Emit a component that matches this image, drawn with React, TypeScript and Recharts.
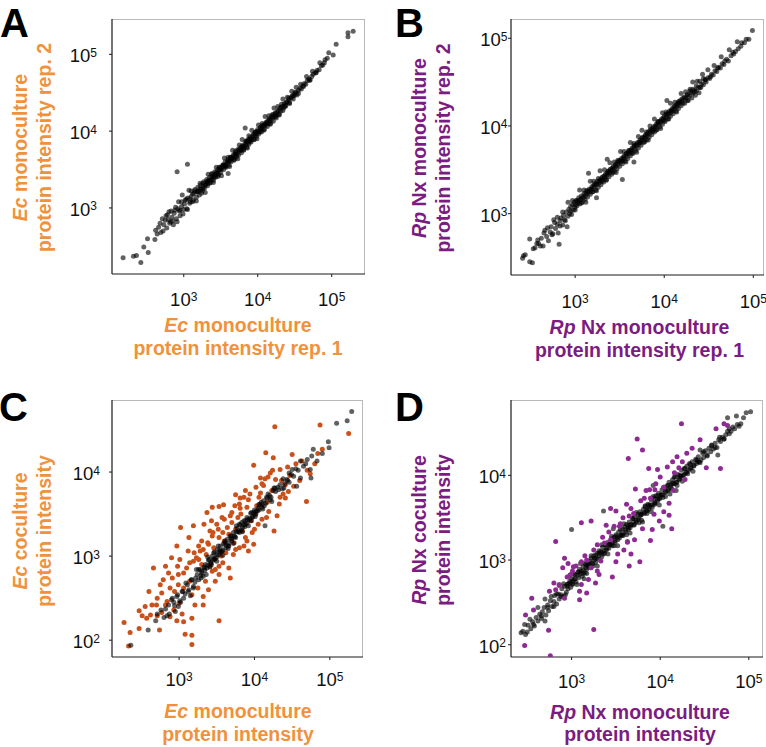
import React from 'react'
import { ScatterChart, Scatter, XAxis, YAxis } from 'recharts'

type Pt = [number, number]

// all values are log10(protein intensity)
const X_TICKS = [3, 4, 5]
const Y_TICKS_TOP = [3, 4, 5]
const Y_TICKS_BOTTOM = [2, 3, 4]

// A: Ec monoculture rep.1 (x) vs rep.2 (y)
const ecReplicates: Pt[] = [
  [2.18,2.35],[2.32,2.37],[2.36,2.38],[2.42,2.29],[2.46,2.49],[2.52,2.42],[2.51,2.60],[2.61,2.59],
  [2.62,2.71],[2.66,2.75],[2.69,2.68],[2.71,2.86],[2.73,2.78],[2.75,2.84],[2.77,2.74],[2.78,2.91],
  [2.80,2.95],[2.81,2.80],[2.82,2.82],[2.84,2.88],[2.86,2.78],[2.87,2.93],[2.89,3.01],[2.90,2.86],
  [2.91,2.82],[2.93,3.08],[2.94,2.96],[2.95,2.97],[2.97,3.02],[2.98,3.17],[2.99,2.92],[2.91,3.47],
  [3.05,3.57],[3.01,3.05],[3.02,3.10],[3.04,2.99],[3.05,3.13],[3.07,3.23],[3.08,3.06],[3.09,3.08],
  [3.10,3.15],[3.12,3.18],[3.13,3.10],[3.14,3.19],[3.15,3.24],[3.17,3.14],[3.18,3.21],[3.19,3.27],
  [3.21,3.17],[3.22,3.25],[3.23,3.30],[3.25,3.22],[3.26,3.28],[3.27,3.34],[3.28,3.26],[3.30,3.31],
  [3.31,3.37],[3.32,3.29],[3.33,3.35],[3.35,3.40],[3.36,3.33],[3.37,3.38],[3.38,3.44],[3.40,3.36],
  [3.41,3.42],[3.42,3.47],[3.43,3.40],[3.44,3.45],[3.46,3.50],[3.47,3.43],[3.48,3.49],[3.49,3.53],
  [3.50,3.46],[3.51,3.52],[3.53,3.56],[3.54,3.50],[3.55,3.55],[3.56,3.60],[3.57,3.53],[3.58,3.58],
  [3.60,3.63],[3.61,3.56],[3.62,3.61],[3.63,3.66],[3.64,3.60],[3.65,3.64],[3.67,3.69],[3.68,3.62],
  [3.69,3.67],[3.70,3.72],[3.71,3.66],[3.72,3.70],[3.73,3.76],[3.74,3.69],[3.76,3.74],[3.77,3.79],
  [3.78,3.72],[3.79,3.77],[3.80,3.82],[3.81,3.76],[3.82,3.80],[3.84,3.86],[3.85,3.79],[3.86,3.84],
  [3.87,3.89],[3.88,3.83],[3.89,3.87],[3.90,3.92],[3.91,3.86],[3.92,3.90],[3.94,3.96],[3.95,3.89],
  [3.96,3.94],[3.97,3.99],[3.98,3.93],[3.99,3.97],[4.00,4.02],[4.01,3.96],[3.83,4.04],[3.60,3.45],
  [4.02,4.00],[4.04,4.05],[4.05,3.99],[4.06,4.03],[4.08,4.08],[4.09,4.02],[4.10,4.07],[4.12,4.12],
  [4.13,4.06],[4.14,4.10],[4.16,4.15],[4.17,4.10],[4.18,4.14],[4.20,4.19],[4.21,4.13],[4.22,4.18],
  [4.24,4.23],[4.25,4.17],[4.26,4.21],[4.28,4.27],[4.29,4.21],[4.31,4.26],[4.32,4.31],[4.34,4.27],
  [4.35,4.30],[4.37,4.35],[4.38,4.33],[4.40,4.38],[4.42,4.41],[4.43,4.36],[4.45,4.43],[4.47,4.46],
  [4.48,4.42],[4.50,4.48],[4.52,4.51],[4.53,4.47],[4.55,4.53],[4.57,4.56],[4.59,4.55],[4.61,4.59],
  [4.63,4.62],[4.65,4.61],[4.67,4.66],[4.69,4.68],[4.71,4.67],[4.73,4.71],[4.75,4.74],[4.78,4.76],
  [4.80,4.79],[4.83,4.80],[4.86,4.85],[4.90,4.89],[4.91,4.93],[4.94,4.95],[4.96,5.02],[5.02,4.99],
  [5.06,5.13],[5.22,5.23],[5.22,5.28],[5.29,5.30],
  [2.64,2.66],[2.68,2.80],[2.72,2.70],[2.76,2.90],[2.79,2.85],[2.83,2.96],[2.85,2.83],[2.88,2.97],
  [2.92,2.99],[2.95,2.90],[2.97,3.08],[3.00,2.98],[3.03,3.11],[3.05,2.98],[3.08,3.12],[3.10,3.22],
  [3.12,3.08],[3.15,3.22],[3.17,3.09],[3.19,3.21],[3.22,3.32],[3.24,3.19],[3.26,3.32],[3.29,3.20],
  [3.31,3.34],[3.33,3.44],[3.35,3.32],[3.38,3.45],[3.40,3.33],[3.42,3.43],[3.44,3.53],[3.46,3.41],
  [3.48,3.53],[3.51,3.42],[3.53,3.56],[3.55,3.65],[3.57,3.54],[3.60,3.66],[3.62,3.54],[3.64,3.66],
  [3.66,3.75],[3.68,3.63],[3.70,3.74],[3.73,3.64],[3.75,3.82],[3.77,3.75],[3.79,3.89],[3.81,3.75],
  [3.84,3.87],[3.86,3.78],[3.88,3.94],[3.90,3.87],[3.92,4.01],[3.95,3.89],[3.97,3.99],[3.99,3.90],
  [4.01,4.08],[4.03,3.99],[4.06,4.10],[4.08,4.01],[4.10,4.19],[4.12,4.10],[4.15,4.20],[4.17,4.09],
  [4.19,4.21],[4.22,4.30],[4.24,4.19],[4.27,4.32],[4.29,4.22],[4.32,4.35],[4.34,4.42],[4.37,4.32],
  [4.40,4.44],[4.43,4.37],[4.46,4.52],[4.49,4.46],[4.52,4.57],[4.55,4.49],[4.58,4.61],[4.62,4.58],
  [4.66,4.71],[4.70,4.66],[4.74,4.78],[4.79,4.76],[4.84,4.89],[4.88,4.86],
  [3.20,3.22],[3.23,3.24],[3.26,3.25],[3.29,3.30],[3.32,3.32],[3.34,3.36],[3.37,3.36],[3.39,3.41],
  [3.41,3.40],[3.44,3.46],[3.46,3.45],[3.49,3.50],[3.51,3.51],[3.54,3.55],[3.56,3.55],[3.59,3.60],
  [3.61,3.61],[3.64,3.65],[3.66,3.65],[3.69,3.70],[3.71,3.70],[3.74,3.75],[3.76,3.76],[3.79,3.80],
  [3.81,3.80],[3.84,3.84],[3.86,3.87],[3.89,3.89],[3.91,3.90],[3.94,3.94],[3.96,3.97],[3.99,3.99],
  [4.01,4.00],[4.04,4.04],[4.06,4.07],[4.09,4.08],[4.11,4.11],[4.14,4.14],[4.16,4.16],[4.19,4.18],
  [4.21,4.22],[4.24,4.24],[4.27,4.26],[4.30,4.30],[4.33,4.32],[4.36,4.36],[4.39,4.38],[4.42,4.43],
  [4.46,4.45],[4.50,4.50],
]

// B: Rp Nx monoculture rep.1 (x) vs rep.2 (y)
const rpReplicates: Pt[] = [
  [2.41,2.49],[2.42,2.52],[2.44,2.53],[2.49,2.45],[2.52,2.44],[2.49,2.71],[2.53,2.60],[2.55,2.61],
  [2.57,2.66],[2.59,2.66],[2.62,2.72],[2.64,2.63],[2.66,2.81],[2.68,2.74],[2.70,2.69],[2.72,2.79],
  [2.73,2.85],[2.75,2.77],[2.76,2.93],[2.78,2.83],[2.80,2.88],[2.81,2.78],[2.82,2.65],[2.83,2.92],
  [2.84,2.95],[2.86,2.87],[2.87,2.98],[2.88,2.93],[2.90,3.02],[2.91,2.85],[2.92,2.97],[2.93,3.05],
  [2.94,3.00],[2.95,3.08],[2.96,2.99],[2.97,3.10],[2.98,3.04],[2.99,3.13],[3.00,3.07],[3.01,3.15],
  [3.02,3.09],[3.03,3.12],[3.04,3.18],[3.05,3.11],[3.06,3.16],[3.07,3.20],[3.08,3.13],[3.09,3.19],
  [3.10,3.23],[3.11,3.16],[3.12,3.21],[3.13,3.26],[3.14,3.19],[3.15,3.46],[3.15,3.24],[3.16,3.28],
  [3.17,3.22],[3.18,3.27],[3.19,3.31],[3.20,3.25],[3.21,3.30],[3.22,3.34],[3.23,3.27],[3.24,3.18],
  [3.24,3.33],[3.25,3.37],[3.26,3.30],[3.27,3.35],[3.28,3.39],[3.29,3.33],[3.30,3.38],[3.31,3.42],
  [3.32,3.36],[3.33,3.41],[3.34,3.45],[3.35,3.39],[3.36,3.62],[3.36,3.44],[3.37,3.48],[3.38,3.42],
  [3.39,3.47],[3.40,3.51],[3.41,3.45],[3.42,3.50],[3.43,3.54],[3.44,3.48],[3.45,3.53],[3.46,3.57],
  [3.47,3.51],[3.48,3.56],[3.49,3.60],[3.50,3.54],[3.51,3.59],[3.52,3.63],[3.53,3.39],[3.53,3.57],
  [3.54,3.62],[3.55,3.66],[3.56,3.60],[3.57,3.65],[3.58,3.69],[3.59,3.63],[3.60,3.68],[3.61,3.72],
  [3.62,3.66],[3.63,3.71],[3.64,3.75],[3.65,3.69],[3.66,3.59],[3.66,3.74],[3.67,3.78],[3.68,3.72],
  [3.69,3.77],[3.70,3.81],[3.71,3.75],[3.72,3.80],[3.73,3.84],[3.74,3.78],[3.75,3.83],[3.76,3.87],
  [3.77,3.81],[3.78,3.86],[3.79,3.90],[3.80,3.84],[3.81,3.89],[3.82,3.93],[3.83,3.87],[3.84,3.92],
  [3.85,3.96],[3.86,3.90],[3.87,3.95],[3.88,3.99],[3.89,3.93],[3.90,3.98],[3.91,4.02],[3.92,3.96],
  [3.93,4.01],[3.94,4.05],[3.95,3.99],[3.96,4.04],[3.97,4.08],[3.98,4.02],[3.99,4.07],[4.00,4.11],
  [4.01,4.05],[4.02,4.10],[4.03,4.29],[4.03,4.14],[4.04,4.08],[4.05,4.13],[4.06,4.17],[4.07,4.11],
  [4.08,4.16],[4.09,4.20],[4.10,4.14],[4.11,4.19],[4.12,4.23],[4.13,4.17],[4.14,4.22],[4.15,4.26],
  [4.16,4.20],[4.17,4.25],[4.18,4.29],[4.19,4.23],[4.20,4.28],[4.22,4.32],[4.23,4.26],[4.24,4.31],
  [4.26,4.35],[4.27,4.29],[4.28,4.34],[4.30,4.38],[4.31,4.32],[4.32,4.37],[4.34,4.41],[4.35,4.35],
  [4.36,4.40],[4.38,4.44],[4.39,4.38],[4.41,4.44],[4.42,4.48],[4.44,4.47],[4.46,4.52],[4.47,4.50],
  [4.49,4.55],[4.51,4.54],[4.53,4.59],[4.55,4.58],[4.57,4.63],[4.59,4.62],[4.61,4.67],[4.63,4.66],
  [4.65,4.71],[4.67,4.70],[4.70,4.76],[4.72,4.74],[4.75,4.80],[4.78,4.82],[4.80,4.85],[4.83,4.88],
  [4.86,4.91],[4.90,4.95],[4.92,4.99],[4.95,4.99],[4.99,5.09],
  [2.58,2.70],[2.61,2.63],[2.65,2.78],[2.69,2.84],[2.74,2.76],[2.77,2.90],[2.80,2.96],[2.83,2.86],
  [2.86,3.02],[2.89,2.92],[2.92,3.13],[2.95,3.03],[2.97,3.15],[3.00,3.04],[3.02,3.15],[3.05,3.27],
  [3.07,3.12],[3.10,3.27],[3.12,3.13],[3.14,3.26],[3.17,3.37],[3.19,3.25],[3.21,3.37],[3.24,3.26],
  [3.26,3.40],[3.28,3.49],[3.30,3.37],[3.33,3.50],[3.35,3.38],[3.37,3.48],[3.39,3.58],[3.42,3.47],
  [3.44,3.59],[3.46,3.47],[3.48,3.61],[3.51,3.71],[3.53,3.60],[3.55,3.71],[3.57,3.59],[3.60,3.72],
  [3.62,3.81],[3.64,3.69],[3.66,3.80],[3.69,3.70],[3.71,3.88],[3.73,3.81],[3.75,3.95],[3.78,3.82],
  [3.80,3.93],[3.82,3.84],[3.84,4.00],[3.87,3.94],[3.89,4.08],[3.91,3.95],[3.93,4.05],[3.96,3.97],
  [3.98,4.15],[4.00,4.06],[4.02,4.16],[4.05,4.08],[4.07,4.26],[4.09,4.17],[4.12,4.27],[4.14,4.16],
  [4.16,4.28],[4.19,4.37],[4.21,4.26],[4.24,4.39],[4.26,4.29],[4.29,4.42],[4.32,4.50],[4.34,4.39],
  [4.37,4.51],[4.40,4.44],[4.43,4.59],[4.46,4.53],[4.49,4.64],[4.52,4.56],[4.56,4.69],[4.60,4.66],
  [4.64,4.79],[4.68,4.74],[4.73,4.87],[4.77,4.84],[4.82,4.96],[4.87,4.95],
  [3.00,3.10],[3.03,3.14],[3.06,3.16],[3.09,3.18],[3.12,3.23],[3.15,3.25],[3.18,3.28],[3.21,3.32],
  [3.24,3.34],[3.27,3.37],[3.30,3.41],[3.33,3.43],[3.36,3.46],[3.39,3.50],[3.42,3.52],[3.45,3.55],
  [3.48,3.59],[3.51,3.61],[3.54,3.64],[3.57,3.68],[3.60,3.70],[3.63,3.73],[3.66,3.77],[3.69,3.79],
  [3.72,3.82],[3.75,3.86],[3.78,3.88],[3.81,3.91],[3.84,3.95],[3.87,3.97],[3.90,4.00],[3.93,4.04],
  [3.96,4.06],[3.99,4.09],[4.02,4.13],[4.05,4.15],[4.08,4.18],[4.11,4.22],[4.14,4.24],[4.17,4.27],
  [4.20,4.31],[4.23,4.33],[4.26,4.36],[4.29,4.40],[4.32,4.42],[4.36,4.46],[4.40,4.51],[4.44,4.54],
]

// C: Ec monoculture (x) vs coculture (y); unchanged proteins in grey, changed in orange
const ecUnchanged: Pt[] = [
  [2.36,1.94],[2.59,2.12],[2.69,2.23],[2.71,2.31],[2.84,2.29],[2.76,2.36],[2.80,2.27],[2.86,2.42],
  [2.91,2.50],[2.95,2.34],[2.93,2.45],[2.97,2.52],[2.99,2.40],[3.01,2.47],[3.04,2.58],[3.06,2.50],
  [3.08,2.55],[3.11,2.66],[3.13,2.60],[3.15,2.53],[3.17,2.72],[3.19,2.64],[3.21,2.69],[3.24,2.78],
  [3.26,2.72],[3.28,2.84],[3.30,2.82],[3.32,2.76],[3.35,2.90],[3.37,2.86],[3.39,2.95],[3.42,2.92],
  [3.44,3.00],[3.46,3.04],[3.48,2.97],[3.51,3.08],[3.53,3.02],[3.55,3.12],[3.57,3.06],[3.59,3.15],
  [3.62,3.10],[3.64,3.20],[3.66,3.12],[3.68,3.24],[3.70,3.18],[3.72,3.28],[3.75,3.22],[3.77,3.33],
  [3.79,3.30],[3.81,3.37],[3.84,3.34],[3.86,3.42],[3.88,3.38],[3.90,3.46],[3.93,3.43],[3.95,3.51],
  [3.97,3.46],[4.00,3.55],[4.02,3.50],[4.05,3.57],[4.07,3.62],[4.10,3.58],[4.12,3.66],[4.14,3.36],
  [4.15,3.63],[4.17,3.69],[4.20,3.72],[4.23,3.65],[4.25,3.78],[4.28,3.77],[4.31,3.82],[4.34,3.85],
  [4.37,3.80],[4.39,3.81],[4.43,3.91],[4.46,3.88],[4.49,3.97],[4.52,3.95],[4.56,3.83],[4.58,4.02],
  [4.61,4.13],[4.61,3.93],[4.65,4.07],[4.68,4.10],[4.74,4.03],[4.75,3.93],[4.76,4.19],[4.78,4.27],
  [4.83,4.13],[4.90,4.22],[4.98,4.36],[4.99,4.29],[5.09,4.58],[5.23,4.61],[5.29,4.72],
  [3.23,2.84],[3.29,2.77],[3.34,2.86],[3.38,2.99],[3.41,2.87],[3.45,2.95],[3.50,3.02],[3.52,3.12],
  [3.56,3.05],[3.61,3.16],[3.65,3.09],[3.69,3.20],[3.73,3.24],[3.76,3.36],[3.80,3.28],[3.83,3.40],
  [3.87,3.35],[3.91,3.44],[3.96,3.42],[3.99,3.52],[4.04,3.54],[4.09,3.64],[4.13,3.60],[4.18,3.74],
  [4.22,3.70],[4.27,3.81],[4.40,3.86],[4.46,3.99],[4.55,4.04],[4.70,4.15],
  [2.82,2.37],[2.87,2.31],[2.90,2.48],[2.94,2.41],[2.98,2.54],[3.02,2.45],[3.05,2.58],[3.09,2.68],
  [3.12,2.58],[3.16,2.72],[3.19,2.62],[3.22,2.74],[3.26,2.84],[3.29,2.74],[3.33,2.87],[3.36,2.78],
  [3.40,2.96],[3.43,2.90],[3.47,3.05],[3.50,2.94],[3.54,3.07],[3.58,3.01],[3.61,3.18],[3.65,3.12],
  [3.69,3.24],[3.72,3.15],[3.76,3.29],[3.80,3.38],[3.84,3.29],[3.88,3.42],[3.92,3.36],[3.96,3.52],
  [4.01,3.47],[4.06,3.61],[4.11,3.56],[4.16,3.70],[4.21,3.67],[4.26,3.81],[4.32,3.79],[4.38,3.92],
  [4.44,3.90],[4.50,4.03],
  [3.30,2.80],[3.34,2.83],[3.38,2.89],[3.42,2.91],[3.46,2.97],[3.50,2.99],[3.54,3.05],[3.58,3.07],
  [3.62,3.13],[3.66,3.15],[3.70,3.21],[3.74,3.23],[3.78,3.29],[3.82,3.31],[3.86,3.37],[3.90,3.39],
  [3.94,3.45],[3.98,3.47],[4.02,3.53],[4.06,3.55],[4.10,3.61],
]

const ecChanged: Pt[] = [
  [4.27,4.54],[4.87,4.56],[5.25,4.46],[4.90,4.27],[4.15,4.23],[4.50,4.21],[4.25,4.17],[3.99,4.08],
  [4.34,4.03],[4.21,3.99],[4.08,3.93],[4.28,3.91],[4.41,3.85],[4.52,3.83],[3.88,3.78],[4.08,3.75],
  [3.75,3.73],[3.81,3.69],[3.92,3.67],[4.45,3.77],[4.41,3.69],[4.69,3.65],[4.74,3.98],[3.44,3.58],
  [3.53,3.59],[3.59,3.61],[3.70,3.52],[3.81,3.57],[4.01,3.50],[4.19,3.53],[4.30,3.48],[3.43,3.42],
  [3.50,3.38],[3.19,3.36],[3.02,3.34],[3.64,3.34],[3.75,3.32],[4.05,3.38],[4.26,3.30],[3.13,3.22],
  [3.44,3.24],[3.53,3.22],[3.88,3.22],[3.99,3.14],[3.26,3.12],[3.39,3.14],[3.75,3.08],[3.92,3.06],
  [2.97,3.12],[3.19,2.94],[3.30,2.90],[3.53,2.88],[3.66,2.86],[2.66,2.86],[2.82,2.88],[2.86,2.80],
  [2.99,2.78],[3.53,2.78],[3.68,2.74],[2.91,2.74],[2.99,2.66],[2.75,2.66],[3.48,2.70],[3.39,2.60],
  [2.77,2.56],[2.71,2.50],[2.84,2.46],[3.17,2.54],[3.32,2.52],[3.21,2.42],[3.32,2.42],[2.55,2.40],
  [2.64,2.42],[2.82,2.42],[2.47,2.35],[2.51,2.29],[2.71,2.29],[2.77,2.33],[3.04,2.31],[2.97,2.23],
  [3.06,2.22],[3.17,2.26],[2.47,2.14],[2.27,2.21],[2.35,2.09],[2.33,1.93],[3.08,2.07],[3.17,2.06],
  [3.17,1.95],[3.53,2.23],[3.30,3.18],[3.36,3.02],[3.41,3.30],[3.46,3.10],[3.58,3.28],[3.62,3.04],
  [3.70,3.40],[3.73,3.16],[3.78,3.46],[3.84,3.30],[3.86,3.12],[3.95,3.42],[3.97,3.28],[4.03,3.60],
  [4.10,3.44],[4.12,3.84],[4.17,3.64],[4.23,3.78],[4.33,3.62],[4.36,3.90],[4.38,3.74],[4.47,3.96],
  [4.55,4.10],[4.60,3.90],[4.63,4.13],[4.70,4.02],[4.80,4.10],[4.84,4.22],[3.10,2.86],[3.14,2.70],
  [3.23,2.98],[3.25,2.62],[3.28,3.06],[3.35,2.70],[3.44,2.82],[3.47,2.96],[3.56,3.00],[3.60,3.18],
  [3.66,3.26],[2.94,2.58],[2.88,2.62],[3.01,2.96],[3.06,2.62],[2.93,2.36],[2.60,2.58],[2.62,2.30],
  [2.79,2.72],[3.12,3.06],[3.37,3.52],[3.90,3.58],[4.14,3.92],[4.44,4.06],[3.57,3.46],[3.82,3.50],
  [4.06,3.70],[3.41,2.88],[3.33,3.38],[2.90,2.98],[2.57,2.26],[2.74,2.12],
  [3.32,3.08],[3.38,3.16],[3.45,3.28],[3.52,3.32],[3.60,3.44],[3.68,3.48],[3.74,3.60],[3.80,3.62],
  [3.86,3.70],[3.94,3.74],[4.02,3.82],[4.10,3.86],[4.18,3.94],[4.24,4.02],[3.26,2.96],[3.20,3.04],
  [3.14,2.92],[3.06,2.80],[2.98,2.88],[3.72,3.02],[3.80,3.10],[3.90,3.18],[4.00,3.32],[4.16,3.46],
  [4.34,3.70],[3.58,2.92],[3.48,2.84],[3.00,2.44],[2.88,2.28],[2.70,2.42],
]

// D: Rp Nx monoculture (x) vs coculture (y); unchanged in grey, changed in purple
const rpUnchanged: Pt[] = [
  [2.43,2.14],[2.45,2.16],[2.48,2.12],[2.51,2.23],[2.54,2.19],[2.56,2.27],[2.58,2.22],[2.60,2.32],
  [2.62,2.28],[2.64,2.36],[2.66,2.31],[2.67,2.39],[2.69,2.44],[2.71,2.35],[2.73,2.47],[2.74,2.40],
  [2.76,2.52],[2.78,2.45],[2.80,2.51],[2.81,2.58],[2.83,2.48],[2.85,2.60],[2.86,2.54],[2.88,2.59],
  [2.89,2.66],[2.91,2.57],[2.92,2.69],[2.94,2.62],[2.95,2.71],[2.96,2.66],[2.98,2.75],[2.99,2.68],
  [3.00,2.78],[3.01,2.72],[3.03,2.77],[3.04,2.83],[3.05,2.74],[3.07,2.86],[3.08,2.79],[3.09,2.89],
  [3.11,2.87],[3.12,2.81],[3.13,2.92],[3.15,2.85],[3.16,2.95],[3.17,2.89],[3.18,2.94],[3.20,2.99],
  [3.21,2.91],[3.22,3.02],[3.24,2.96],[3.25,3.05],[3.26,3.02],[3.27,2.97],[3.29,3.08],[3.30,3.01],
  [3.31,3.11],[3.33,3.10],[3.34,3.04],[3.35,3.15],[3.37,3.08],[3.38,3.18],[3.39,3.12],[3.41,3.21],
  [3.42,3.14],[3.44,3.18],[3.45,3.25],[3.46,3.17],[3.48,3.27],[3.49,3.21],[3.50,3.30],[3.52,3.24],
  [3.53,3.33],[3.54,3.26],[3.56,3.30],[3.57,3.37],[3.58,3.29],[3.60,3.39],[3.61,3.33],[3.62,3.42],
  [3.64,3.36],[3.65,3.45],[3.66,3.38],[3.67,3.42],[3.69,3.49],[3.70,3.41],[3.71,3.51],[3.73,3.45],
  [3.74,3.54],[3.75,3.48],[3.77,3.57],[3.78,3.53],[3.79,3.47],[3.81,3.60],[3.82,3.55],[3.83,3.63],
  [3.85,3.58],[3.86,3.66],[3.87,3.60],[3.89,3.65],[3.90,3.71],[3.91,3.62],[3.93,3.73],[3.94,3.67],
  [3.95,3.76],[3.97,3.70],[3.98,3.79],[3.99,3.72],[4.01,3.77],[4.02,3.83],[4.03,3.74],[4.05,3.86],
  [4.06,3.80],[4.08,3.88],[4.09,3.82],[4.10,3.92],[4.12,3.89],[4.13,3.84],[4.14,3.95],[4.16,3.90],
  [4.17,3.98],[4.19,3.92],[4.20,4.01],[4.22,3.96],[4.23,3.99],[4.24,4.06],[4.26,4.00],[4.27,4.08],
  [4.29,4.03],[4.30,4.11],[4.32,4.06],[4.33,4.14],[4.35,4.09],[4.36,4.16],[4.38,4.11],[4.40,4.19],
  [4.41,4.14],[4.43,4.22],[4.44,4.16],[4.46,4.18],[4.48,4.26],[4.49,4.21],[4.51,4.29],[4.53,4.24],
  [4.55,4.32],[4.57,4.28],[4.58,4.35],[4.60,4.31],[4.62,4.38],[4.64,4.33],[4.66,4.42],[4.68,4.40],
  [4.70,4.45],[4.72,4.43],[4.74,4.48],[4.76,4.52],[4.78,4.49],[4.80,4.52],[4.82,4.57],[4.84,4.55],
  [4.87,4.60],[4.89,4.58],[4.91,4.61],[4.94,4.68],[4.97,4.74],[5.02,4.75],[4.76,4.68],[4.86,4.70],
  [3.00,3.36],[3.36,3.58],[4.03,3.40],[2.70,2.28],[3.14,2.78],[3.47,3.37],[3.63,3.22],[3.92,3.88],
  [4.18,3.82],[4.45,4.30],[4.65,4.24],
  [2.47,2.24],[2.50,2.15],[2.53,2.30],[2.57,2.24],[2.62,2.44],[2.66,2.34],[2.70,2.54],[2.73,2.44],
  [2.77,2.57],[2.80,2.45],[2.83,2.60],[2.86,2.71],[2.88,2.57],[2.91,2.72],[2.93,2.59],[2.96,2.72],
  [2.98,2.82],[3.01,2.71],[3.03,2.83],[3.06,2.71],[3.08,2.86],[3.10,2.96],[3.13,2.84],[3.15,2.96],
  [3.17,2.84],[3.20,2.95],[3.22,3.05],[3.24,2.93],[3.27,3.06],[3.29,2.93],[3.31,3.08],[3.34,3.18],
  [3.36,3.07],[3.38,3.18],[3.41,3.07],[3.43,3.19],[3.45,3.28],[3.48,3.17],[3.50,3.28],[3.52,3.17],
  [3.55,3.36],[3.57,3.29],[3.59,3.43],[3.62,3.30],[3.64,3.41],[3.66,3.32],[3.69,3.49],[3.71,3.42],
  [3.73,3.56],[3.76,3.44],[3.78,3.54],[3.80,3.45],[3.83,3.64],[3.85,3.55],[3.87,3.65],[3.90,3.57],
  [3.92,3.75],[3.94,3.66],[3.97,3.76],[3.99,3.65],[4.01,3.77],[4.04,3.86],[4.06,3.75],[4.09,3.88],
  [4.11,3.78],[4.14,3.91],[4.16,3.98],[4.19,3.88],[4.22,4.00],[4.25,3.93],[4.28,4.08],[4.31,4.02],
  [4.34,4.13],[4.37,4.05],[4.41,4.18],[4.45,4.15],[4.49,4.28],[4.53,4.23],[4.58,4.36],[4.62,4.33],
  [4.67,4.45],[4.72,4.43],[4.78,4.55],
  [2.95,2.69],[2.98,2.73],[3.01,2.75],[3.04,2.78],[3.07,2.82],[3.10,2.84],[3.13,2.87],[3.16,2.91],
  [3.19,2.93],[3.22,2.96],[3.25,3.00],[3.28,3.02],[3.31,3.05],[3.34,3.09],[3.37,3.11],[3.40,3.14],
  [3.43,3.18],[3.46,3.20],[3.49,3.23],[3.52,3.27],[3.55,3.29],[3.58,3.32],[3.61,3.36],[3.64,3.38],
  [3.67,3.41],[3.70,3.45],[3.73,3.47],[3.76,3.50],[3.79,3.54],[3.82,3.56],[3.85,3.59],[3.88,3.63],
  [3.91,3.65],[3.94,3.68],[3.97,3.72],[4.00,3.74],[4.03,3.77],[4.06,3.81],[4.09,3.83],[4.12,3.86],
  [4.15,3.90],[4.18,3.92],[4.21,3.95],[4.24,3.99],[4.27,4.01],[4.30,4.04],[4.34,4.08],[4.38,4.12],
  [4.42,4.16],
]

const rpChanged: Pt[] = [
  [4.24,4.61],[3.74,4.43],[3.80,4.30],[3.64,4.20],[4.36,4.32],[4.72,4.61],[4.76,4.59],[4.63,4.55],
  [4.68,4.08],[4.52,4.09],[4.14,4.16],[4.25,4.16],[4.21,4.09],[3.97,4.07],[3.87,4.08],[4.16,4.03],
  [3.72,3.84],[3.88,3.83],[3.94,3.83],[4.04,3.86],[3.82,3.73],[3.89,3.73],[3.44,3.61],[3.50,3.58],
  [3.67,3.61],[4.10,3.67],[4.10,3.53],[4.04,3.57],[3.99,3.46],[3.65,3.52],[3.22,3.46],[3.11,3.44],
  [3.39,3.41],[3.48,3.40],[3.54,3.40],[4.13,3.37],[3.91,3.36],[3.89,3.23],[3.71,3.24],[3.63,3.21],
  [2.82,3.22],[3.29,3.18],[3.37,3.20],[3.44,3.24],[3.77,2.98],[3.67,3.07],[3.59,3.12],[3.52,3.07],
  [3.50,2.98],[3.33,2.99],[3.65,2.93],[2.92,3.02],[2.96,2.96],[3.01,2.87],[3.05,2.93],[3.11,2.98],
  [3.17,3.00],[3.22,2.91],[3.29,2.87],[3.31,2.83],[3.46,2.80],[2.90,2.91],[2.99,2.83],[3.19,2.77],
  [3.27,2.73],[2.80,2.73],[3.11,2.71],[2.75,2.63],[2.82,2.65],[3.09,2.63],[3.17,2.61],[3.09,2.53],
  [2.92,2.55],[2.55,2.55],[2.57,2.41],[2.48,2.35],[2.47,1.99],[2.74,2.17],[3.25,2.18],[2.76,1.87],
  [3.58,3.50],[3.70,3.55],[3.78,3.70],[3.84,3.82],[3.95,3.90],[4.00,3.98],[4.08,4.10],[4.19,4.22],
  [4.30,4.26],[4.45,4.42],[3.55,3.43],[3.42,3.33],[3.25,3.12],[3.15,3.05],[3.02,2.92],[2.95,2.80],
  [2.86,2.70],[3.35,3.27],[3.62,3.66],[3.93,3.54],[4.15,3.82],[4.28,3.95],[3.80,3.37],
]

const FONT = '"Liberation Sans", Arial, Helvetica, sans-serif'
const ORANGE = '#F0923C'
const PURPLE = '#7B1C82'
const GREY_DOT = '#000'
const ORANGE_DOT = '#C9521C'
const PURPLE_DOT = '#8E2B93'
const AXIS = '#1a1a1a'

type Layer = { pts: Pt[]; color: string; opacity: number }
type PanelProps = {
  box: [number, number, number, number]
  xDomain: [number, number]
  yDomain: [number, number]
  yTicks: number[]
  layers: Layer[]
  gap: number
  drop: number
}

const YW = 60
const MT = 5
const MR = 2
const XH = 45

const dot = (color: string, opacity: number) => (p: any) =>
  <circle cx={p.cx} cy={p.cy} r={2.5} fill={color} fillOpacity={opacity} />

const powTick = (anchor: 'middle' | 'end', dx: number, dy: number) => (p: any) => (
  <text x={p.x + dx} y={p.y + dy} textAnchor={anchor} fontFamily={FONT} fontSize={18.5} fill="#111">
    10<tspan dy={-5.5} fontSize={12}>{p.payload.value}</tspan>
  </text>
)

function Panel({ box, xDomain, yDomain, yTicks, layers, gap, drop }: PanelProps) {
  const [l, t, r, b] = box
  const w = r - l, h = b - t
  return (
    <div style={{ position: 'absolute', left: l - YW, top: t - MT }}>
      <div style={{ position: 'absolute', left: YW, top: MT, width: w, height: h, boxSizing: 'border-box',
        borderTop: '1px solid #b8b8b8', borderRight: '1px solid #b8b8b8' }} />
      <ScatterChart width={YW + w + MR} height={MT + h + XH} margin={{ top: MT, right: MR, bottom: 0, left: 0 }}>
        <XAxis type="number" dataKey="x" domain={xDomain} ticks={X_TICKS} allowDataOverflow height={XH}
          tickSize={3} axisLine={{ stroke: AXIS, strokeWidth: 1.2 }} tickLine={{ stroke: AXIS }}
          tick={powTick('middle', 0, drop - 5)} />
        <YAxis type="number" dataKey="y" domain={yDomain} ticks={yTicks} allowDataOverflow width={YW}
          tickSize={3} axisLine={{ stroke: AXIS, strokeWidth: 1.2 }} tickLine={{ stroke: AXIS }}
          tick={powTick('end', 5 - gap, 8)} />
        {layers.map((ly, i) => (
          <Scatter key={i} data={ly.pts.map(([x, y]) => ({ x, y }))} shape={dot(ly.color, ly.opacity)}
            isAnimationActive={false} />
        ))}
      </ScatterChart>
    </div>
  )
}

const TITLE = { fontFamily: FONT, fontSize: 19.5, fontWeight: 700 }
const LETTER = { fontFamily: FONT, fontSize: 40, fontWeight: 700, fill: '#000' }

function XTitle({ cx, y, color, l1, l2 }: { cx: number; y: number; color: string; l1: React.ReactNode; l2: string }) {
  return (
    <g fill={color} style={TITLE}>
      <text x={cx} y={y} textAnchor="middle">{l1}</text>
      <text x={cx} y={y + 22.5} textAnchor="middle">{l2}</text>
    </g>
  )
}

function YTitle({ x, cy, color, l1, l2 }: { x: number; cy: number; color: string; l1: React.ReactNode; l2: string }) {
  return (
    <g fill={color} style={TITLE}>
      <text transform={`translate(${x},${cy}) rotate(-90)`} textAnchor="middle">{l1}</text>
      <text transform={`translate(${x + 24},${cy}) rotate(-90)`} textAnchor="middle">{l2}</text>
    </g>
  )
}

const ec = <tspan fontStyle="italic">Ec</tspan>
const rp = <tspan fontStyle="italic">Rp</tspan>

export default function App() {
  return (
    <div style={{ position: 'absolute', left: 0, top: 0, width: 766, height: 747, background: '#fff', overflow: 'hidden' }}>
      <Panel box={[112, 19, 365, 274]} xDomain={[2.03, 5.45]} yDomain={[2.14, 5.46]} yTicks={Y_TICKS_TOP}
        layers={[{ pts: ecReplicates, color: GREY_DOT, opacity: 0.62 }]} gap={15} drop={32} />
      <Panel box={[511, 19, 764, 275]} xDomain={[2.28, 5.12]} yDomain={[2.30, 5.22]} yTicks={Y_TICKS_TOP}
        layers={[{ pts: rpReplicates, color: GREY_DOT, opacity: 0.62 }]} gap={3.5} drop={33} />
      <Panel box={[112, 400, 363, 657]} xDomain={[2.11, 5.44]} yDomain={[1.80, 4.857]} yTicks={Y_TICKS_BOTTOM}
        layers={[{ pts: ecChanged, color: ORANGE_DOT, opacity: 1 }, { pts: ecUnchanged, color: GREY_DOT, opacity: 0.62 }]}
        gap={12} drop={29} />
      <Panel box={[511, 400, 763, 657]} xDomain={[2.316, 5.16]} yDomain={[1.855, 4.89]} yTicks={Y_TICKS_BOTTOM}
        layers={[{ pts: rpUnchanged, color: GREY_DOT, opacity: 0.62 }, { pts: rpChanged, color: PURPLE_DOT, opacity: 1 }]}
        gap={5} drop={31} />

      <svg width={766} height={747} style={{ position: 'absolute', left: 0, top: 0, pointerEvents: 'none' }}>
        <text x={0} y={36.5} style={LETTER}>A</text>
        <text x={395} y={36.5} style={LETTER}>B</text>
        <text x={-1} y={421} style={LETTER}>C</text>
        <text x={395} y={421} style={LETTER}>D</text>

        <XTitle cx={238} y={332} color={ORANGE} l1={<>{ec} monoculture</>} l2="protein intensity rep. 1" />
        <YTitle x={26.5} cy={147.5} color={ORANGE} l1={<>{ec} monoculture</>} l2="protein intensity rep. 2" />

        <XTitle cx={639.5} y={334} color={PURPLE} l1={<>{rp} Nx monoculture</>} l2="protein intensity rep. 1" />
        <YTitle x={426} cy={148} color={PURPLE} l1={<>{rp} Nx monoculture</>} l2="protein intensity rep. 2" />

        <XTitle cx={238} y={718} color={ORANGE} l1={<>{ec} monoculture</>} l2="protein intensity" />
        <YTitle x={26.5} cy={531} color={ORANGE} l1={<>{ec} coculture</>} l2="protein intensity" />

        <XTitle cx={640} y={718.5} color={PURPLE} l1={<>{rp} Nx monoculture</>} l2="protein intensity" />
        <YTitle x={426} cy={530} color={PURPLE} l1={<>{rp} Nx coculture</>} l2="protein intensity" />
      </svg>
    </div>
  )
}
